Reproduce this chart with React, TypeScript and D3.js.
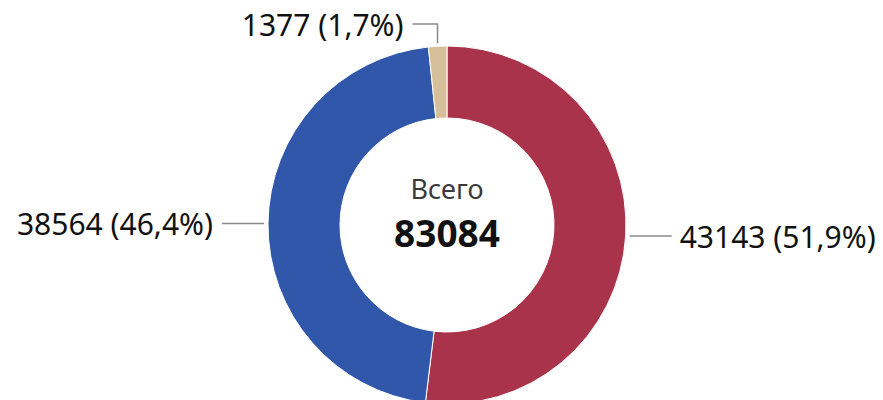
import React from "react";
import * as d3 from "d3";

const categories = ["A", "B", "C"];
const values = [43143, 38564, 1377];
const percentLabels = ["51,9%", "46,4%", "1,7%"];
const colors = ["#A9334A", "#3157AB", "#D6C09C"];
const totalLabel = "Всего";
const totalValue = 83084;

const W = 883;
const H = 400;
const cx = 447;
const cy = 225;
const R = 179;
const r = 107;
const FONT = "'Noto Sans', 'Open Sans', sans-serif";
const LABEL_SIZE = 30;

export default function App() {
  const pie = d3.pie<number>().sort(null).value((d) => d)(values);
  const arc = d3.arc<d3.PieArcDatum<number>>().innerRadius(r).outerRadius(R);

  const labels = pie.map((p, i) => {
    const a = (p.startAngle + p.endAngle) / 2;
    const s = Math.sin(a);
    const c = Math.cos(a);
    const text = `${values[i]} (${percentLabels[i]})`;
    if (Math.abs(s) < 0.2) {
      const x0 = cx + (R + 3) * s;
      const y0 = cy - (R + 3) * c;
      const y1 = cy - R - 22;
      const x2 = x0 - 25;
      return (
        <g key={i}>
          <path d={`M${x0},${y0}V${y1}H${x2}`} fill="none" stroke="#8a8a8a" strokeWidth={1.5} />
          <text x={x2 - 9} y={y1 + 1} dy="0.36em" textAnchor="end" fontSize={LABEL_SIZE} fill="#111" fontFamily={FONT}>
            {text}
          </text>
        </g>
      );
    }
    const right = s > 0;
    const x0 = cx + (R + 4) * s;
    const y0 = cy - (R + 4) * c;
    const x1 = x0 + (right ? 42 : -42);
    return (
      <g key={i}>
        <path d={`M${x0},${y0}H${x1}`} fill="none" stroke="#8a8a8a" strokeWidth={1.5} />
        <text
          x={x1 + (right ? 8 : -9)}
          y={y0 + 1}
          dy="0.36em"
          textAnchor={right ? "start" : "end"}
          fontSize={LABEL_SIZE}
          fill="#111"
          fontFamily={FONT}
        >
          {text}
        </text>
      </g>
    );
  });

  return (
    <svg width={W} height={H} style={{ position: "absolute", left: 0, top: 0, background: "#fff" }}>
      <g transform={`translate(${cx},${cy})`}>
        {pie.map((p, i) => (
          <path key={categories[i]} d={arc(p) || ""} fill={colors[i]} stroke="#fff" strokeWidth={1} />
        ))}
      </g>
      {labels}
      <text x={cx} y={199} textAnchor="middle" fontSize={27} fill="#3a3a3a" fontFamily={FONT}>
        {totalLabel}
      </text>
      <text x={cx} y={247} textAnchor="middle" fontSize={37} fontWeight="bold" fill="#111" fontFamily={FONT}>
        {totalValue}
      </text>
    </svg>
  );
}
